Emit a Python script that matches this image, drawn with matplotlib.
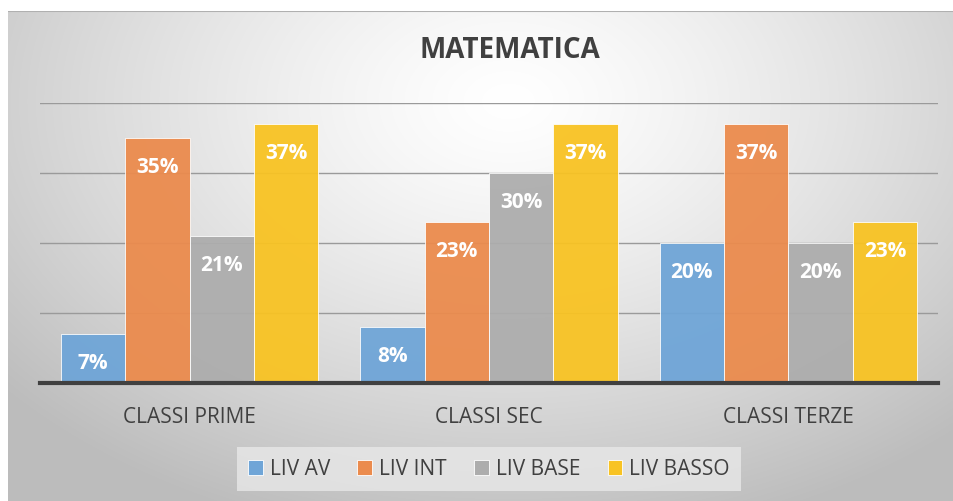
import numpy as np
import matplotlib.pyplot as plt
from matplotlib.patches import Rectangle

categories = ["CLASSI PRIME", "CLASSI SEC", "CLASSI TERZE"]
series = ["LIV AV", "LIV INT", "LIV BASE", "LIV BASSO"]
values = {
    "LIV AV":    [7, 8, 20],
    "LIV INT":   [35, 23, 37],
    "LIV BASE":  [21, 30, 20],
    "LIV BASSO": [37, 37, 23],
}
colors = ["#6FA5D7", "#EB8B4D", "#ADADAD", "#F8C323"]

plt.rcParams['font.family'] = ['Open Sans', 'DejaVu Sans']
W, H = 954, 502
fig = plt.figure(figsize=(W/100, H/100), dpi=100)
fig.patch.set_facecolor('white')

# background with radial gradient
bg = fig.add_axes([8/W, 0, (W-8)/W, (H-12)/H])
bg.set_axis_off()
yy, xx = np.mgrid[0:490, 0:946]
cx, cy = 500, 90
d = np.sqrt(((xx-cx)/620.0)**2 + ((yy-cy)/420.0)**2)
g = np.clip(1.0 - 0.24*d**1.3, 0.74, 1.0)
img = np.dstack([g, g, g])
bg.imshow(img, aspect='auto', extent=[0, 1, 0, 1], origin='upper')
bg.set_xlim(0, 1); bg.set_ylim(0, 1)
bg.plot([0, 1], [1, 1], color='#B0B0B0', lw=1.5)

ax = fig.add_axes([40/W, (H-384)/H, 898/W, 280/H])
ax.set_facecolor('none')
x = np.arange(len(categories))
bw = 0.215
for i, s in enumerate(series):
    pos = x + (i-1.5)*bw
    bars = ax.bar(pos, values[s], bw, color=colors[i], edgecolor='#FFFFFF', linewidth=0.6, zorder=3, alpha=0.95)
    for b, v in zip(bars, values[s]):
        ax.text(b.get_x()+b.get_width()/2, v - 4.1, f"{v}%", ha='center', va='center',
                color='white', fontsize=15, fontweight='bold', zorder=4)

ax.set_ylim(0, 40)
ax.set_xlim(-0.5, 2.5)
ax.set_yticks([10, 20, 30, 40])
ax.yaxis.grid(True, color='#9A9A9A', lw=1.0, zorder=0)
ax.tick_params(axis='y', left=False, labelleft=False)
ax.tick_params(axis='x', bottom=False, labelsize=15, colors='#404040', pad=13)
ax.set_xticks(x)
ax.set_xticklabels(categories)
for sp in ['top', 'right', 'left']:
    ax.spines[sp].set_visible(False)
ax.spines['bottom'].set_color('#404040')
ax.spines['bottom'].set_linewidth(3)
ax.spines['bottom'].set_zorder(5)

fig.text(510/W, 1-50/H, "MATEMATICA", ha='center', va='center', fontsize=20,
         fontweight='bold', color='#404040')

handles = [Rectangle((0, 0), 1, 1, facecolor=c, edgecolor='white', lw=0.6) for c in colors]
leg = fig.legend(handles, series, loc='center', bbox_to_anchor=(489/W, 1-470/H), ncol=4,
                 frameon=True, fontsize=15, handlelength=0.7, handleheight=0.7,
                 handletextpad=0.35, columnspacing=1.3, borderpad=0.55)
leg.get_frame().set_facecolor('#E8E8E8')
leg.get_frame().set_edgecolor('none')
leg.get_frame().set_alpha(0.8)
leg.get_frame().set_boxstyle('square', pad=0)
for t in leg.get_texts():
    t.set_color('#404040')

fig.savefig("out.png", dpi=100)
